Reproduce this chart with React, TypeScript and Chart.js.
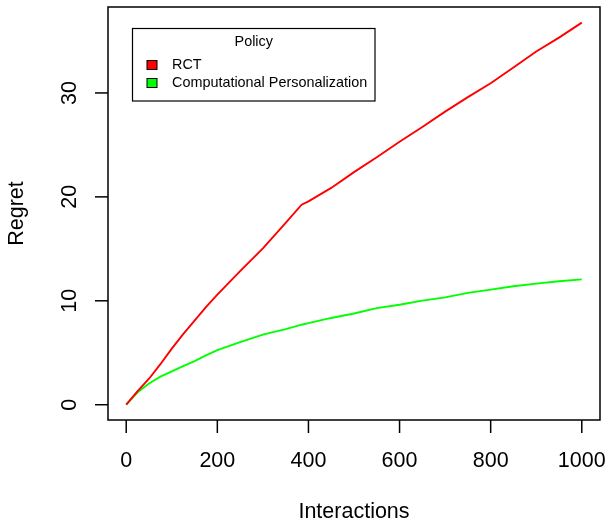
import React, { useEffect, useRef } from "react";
import { Chart, registerables } from "chart.js";

Chart.register(...registerables);

const interactions = [0, 25, 50, 75, 100, 125, 150, 175, 200, 250, 300, 350, 385, 400, 450, 500, 550, 600, 650, 700, 750, 800, 850, 900, 950, 1000];
const rctRegret = [0, 1.3, 2.5, 3.9, 5.4, 6.8, 8.1, 9.4, 10.6, 12.85, 15.05, 17.5, 19.25, 19.57, 20.86, 22.38, 23.81, 25.3, 26.72, 28.2, 29.6, 30.93, 32.45, 33.99, 35.32, 36.77];
const cpRegret = [0, 1.2, 2.05, 2.7, 3.2, 3.72, 4.2, 4.75, 5.26, 6.03, 6.75, 7.28, 7.7, 7.85, 8.35, 8.78, 9.29, 9.62, 10.02, 10.33, 10.76, 11.08, 11.4, 11.65, 11.88, 12.06];
const seriesNames = ["RCT", "Computational Personalization"];
const seriesColors = ["#FF0000", "#00FF00"];
const xTicks = [0, 200, 400, 600, 800, 1000];
const yTicks = [0, 10, 20, 30];
const legendTitle = "Policy";
const xTitle = "Interactions";
const yTitle = "Regret";

const FONT = "'Liberation Sans', Arial, Helvetica, sans-serif";

const rPlot = {
  id: "rPlot",
  afterDraw(chart: any) {
    const ctx = chart.ctx;
    const { left, right, top, bottom } = chart.chartArea;
    const xs = chart.scales.x;
    const ys = chart.scales.y;
    ctx.save();
    ctx.strokeStyle = "#000";
    ctx.fillStyle = "#000";
    ctx.lineWidth = 1.5;
    ctx.strokeRect(left, top, right - left, bottom - top);

    // x axis
    ctx.font = `21.5px ${FONT}`;
    ctx.textAlign = "center";
    ctx.textBaseline = "middle";
    for (const t of xTicks) {
      const px = xs.getPixelForValue(t);
      ctx.beginPath();
      ctx.moveTo(px, bottom);
      ctx.lineTo(px, bottom + 13);
      ctx.stroke();
      ctx.fillText(String(t), px, bottom + 41);
    }
    // y axis
    for (const t of yTicks) {
      const py = ys.getPixelForValue(t);
      ctx.beginPath();
      ctx.moveTo(left, py);
      ctx.lineTo(left - 13, py);
      ctx.stroke();
      ctx.save();
      ctx.translate(left - 38, py);
      ctx.rotate(-Math.PI / 2);
      ctx.fillText(String(t), 0, 0);
      ctx.restore();
    }
    // titles
    ctx.fillText(xTitle, (left + right) / 2, bottom + 92);
    ctx.save();
    ctx.translate(17, (top + bottom) / 2);
    ctx.rotate(-Math.PI / 2);
    ctx.fillText(yTitle, 0, 0);
    ctx.restore();

    // legend
    const lx = 132.5, ly = 28.5, lw = 242.5, lh = 72.5;
    ctx.lineWidth = 1.2;
    ctx.strokeRect(lx, ly, lw, lh);
    ctx.font = `14.4px ${FONT}`;
    ctx.textAlign = "center";
    ctx.fillText(legendTitle, lx + lw / 2, 42);
    ctx.textAlign = "left";
    const rowsY = [65, 83];
    seriesNames.forEach((name, i) => {
      const cy = rowsY[i];
      ctx.fillStyle = seriesColors[i];
      ctx.fillRect(147, cy - 4.5, 10, 9);
      ctx.strokeStyle = "#000";
      ctx.lineWidth = 1;
      ctx.strokeRect(147, cy - 4.5, 10, 9);
      ctx.fillStyle = "#000";
      ctx.fillText(name, 172, cy);
    });
    ctx.restore();
  },
};

export default function App() {
  const ref = useRef<HTMLCanvasElement>(null);
  useEffect(() => {
    if (!ref.current) return;
    const chart = new Chart(ref.current, {
      type: "line",
      data: {
        datasets: [
          {
            label: seriesNames[0],
            data: interactions.map((x, i) => ({ x, y: rctRegret[i] })),
            borderColor: seriesColors[0],
            borderWidth: 1.9,
            pointRadius: 0,
            tension: 0,
          },
          {
            label: seriesNames[1],
            data: interactions.map((x, i) => ({ x, y: cpRegret[i] })),
            borderColor: seriesColors[1],
            borderWidth: 1.9,
            pointRadius: 0,
            tension: 0,
          },
        ],
      },
      options: {
        responsive: false,
        animation: false,
        layout: { padding: { left: 108, top: 7, right: 9, bottom: 104 } },
        plugins: { legend: { display: false }, tooltip: { enabled: false } },
        scales: {
          x: { type: "linear", min: -40, max: 1040, display: false },
          y: { type: "linear", min: -1.47, max: 38.27, display: false },
        },
      },
      plugins: [rPlot],
    });
    return () => chart.destroy();
  }, []);
  return (
    <div style={{ position: "fixed", left: 0, top: 0, width: 609, height: 524, background: "#fff" }}>
      <canvas ref={ref} width={609} height={524} />
    </div>
  );
}
